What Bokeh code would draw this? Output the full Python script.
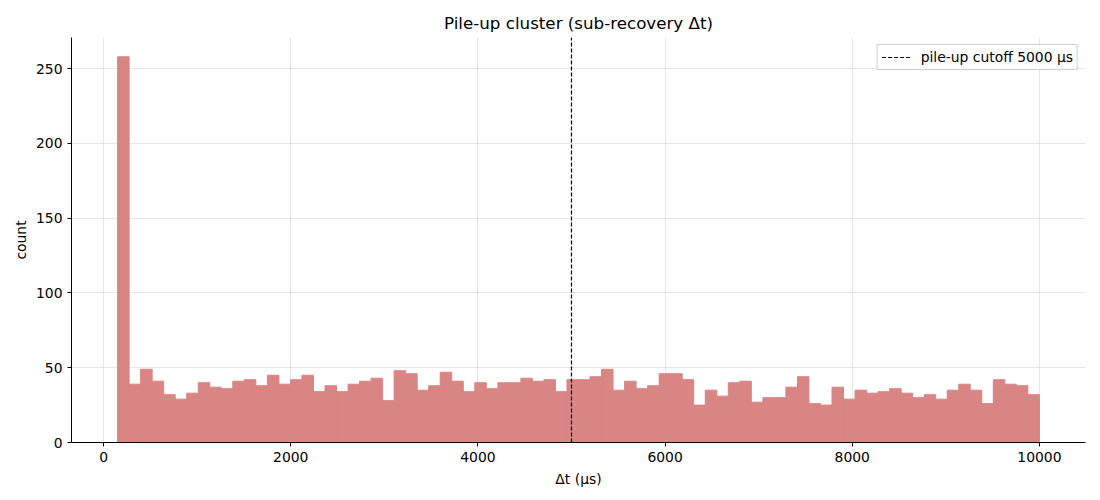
import numpy as np
from bokeh.plotting import figure
from bokeh.models import Range1d, Legend, LegendItem, FixedTicker
from bokeh.embed import file_html
from bokeh.resources import INLINE

bin_start = 150
bin_end = 10000
counts = [258,
          39, 49, 41, 32, 29, 33, 40, 37, 36, 41, 42, 38, 45, 39, 42, 45, 34, 38, 34, 39,
          41, 43, 28, 48, 46, 35, 38, 47, 41, 34, 40, 36, 40, 40, 43, 41, 42, 34, 42, 42,
          44, 49, 35, 41, 36, 38, 46, 46, 42, 25, 35, 31, 40, 41, 27, 30, 30, 37, 44, 26, 25,
          37, 29, 35, 33, 34, 36, 33, 30, 32, 29, 35, 39, 35, 26, 42, 39, 38, 32]
cutoff = 5000
x_ticks = [0, 2000, 4000, 6000, 8000, 10000]
y_ticks = [0, 50, 100, 150, 200, 250]

edges = np.linspace(bin_start, bin_end, len(counts) + 1)
span = bin_end - bin_start
x0, x1 = bin_start - 0.05 * span, bin_end + 0.05 * span
ytop = max(counts) * 1.05

FONT = "DejaVu Sans"
FS = "13.9px"
BAR = "#d98584"
p = figure(width=1092, height=492, output_backend="svg", toolbar_location=None,
           x_range=Range1d(x0, x1), y_range=Range1d(0, ytop),
           title="Pile-up cluster (sub-recovery Δt)",
           min_border_left=71, min_border_right=7, min_border_bottom=50, min_border_top=37)
p.title.align = "center"
p.title.text_font = FONT
p.title.text_font_size = "16.7px"
p.title.text_font_style = "normal"
p.title.text_color = "black"
p.outline_line_color = None

p.quad(left=edges[:-1], right=edges[1:], bottom=0, top=counts,
       fill_color=BAR, line_color=BAR, line_width=1)

ln = p.line(x=[cutoff, cutoff], y=[0, ytop], line_color="black", line_width=1.2,
            line_dash="4 2")

legend = Legend(items=[LegendItem(label=f"pile-up cutoff {cutoff} µs", renderers=[ln])],
                location="top_right", label_text_font=FONT, label_text_font_size=FS,
                label_text_color="black",
                border_line_color="#d0d0d0", border_line_alpha=1.0, background_fill_alpha=0.8,
                glyph_width=30, glyph_height=16, label_height=16, label_standoff=9,
                padding=4, margin=7, spacing=0)
p.add_layout(legend)

p.xaxis.ticker = FixedTicker(ticks=x_ticks)
p.yaxis.ticker = FixedTicker(ticks=y_ticks)
for ax in (p.xaxis, p.yaxis):
    ax.major_label_text_font = FONT
    ax.major_label_text_font_size = FS
    ax.major_label_text_color = "black"
    ax.axis_label_text_font = FONT
    ax.axis_label_text_font_size = FS
    ax.axis_label_text_font_style = "normal"
    ax.axis_label_text_color = "black"
    ax.axis_line_color = "black"
    ax.major_tick_line_color = "black"
    ax.major_tick_out = 4
    ax.major_tick_in = 0
    ax.minor_tick_line_color = None
p.xaxis.axis_label = "Δt (µs)"
p.yaxis.axis_label = "count"
p.xaxis.axis_label_standoff = 6
p.yaxis.axis_label_standoff = 4

p.xgrid.grid_line_color = "#e0e0e0"
p.ygrid.grid_line_color = "#e0e0e0"
p.xgrid.grid_line_width = 0.8
p.ygrid.grid_line_width = 0.8

open("out.html", "w").write(file_html(p, INLINE))
